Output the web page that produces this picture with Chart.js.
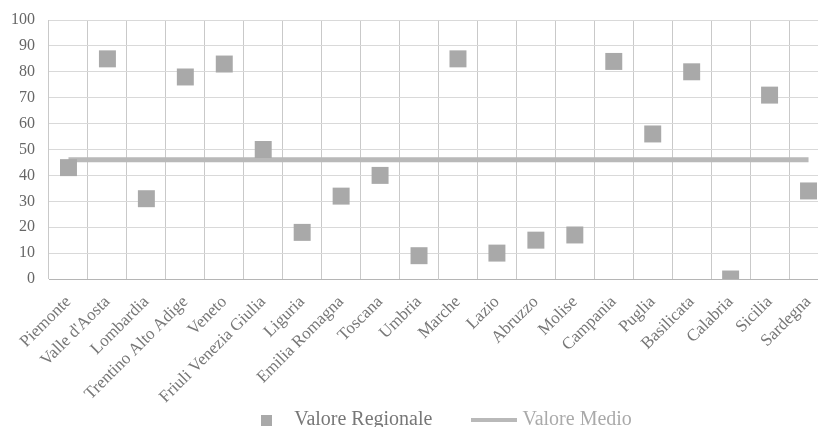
<!DOCTYPE html>
<html>
<head>
<meta charset="utf-8">
<script src="https://cdn.jsdelivr.net/npm/chart.js@4/dist/chart.umd.min.js"></script>
<style>
  html, body { margin: 0; padding: 0; background: #fff; overflow: hidden; }
  #wrap { width: 840px; height: 427px; }
</style>
</head>
<body>
<div id="wrap"><canvas id="myChart" width="840" height="427"></canvas></div>
<script>
// dati
const regioni = [
        'Piemonte', "Valle d'Aosta", 'Lombardia', 'Trentino Alto Adige', 'Veneto',
        'Friuli Venezia Giulia', 'Liguria', 'Emilia Romagna', 'Toscana', 'Umbria',
        'Marche', 'Lazio', 'Abruzzo', 'Molise', 'Campania',
        'Puglia', 'Basilicata', 'Calabria', 'Sicilia', 'Sardegna'
];
const valoreRegionale = [43, 85, 31, 78, 83, 50, 18, 32, 40, 9, 85, 10, 15, 17, 84, 56, 80, 0, 71, 34];
const valoreMedio = [46, 46, 46, 46, 46, 46, 46, 46, 46, 46, 46, 46, 46, 46, 46, 46, 46, 46, 46, 46];
const yTicks = [0, 10, 20, 30, 40, 50, 60, 70, 80, 90, 100];

const grigioPunti = '#a9a9a9';
const grigioLinea = '#b9b9b9';

// icone legenda
function makeIcon(w, h, color) {
        let c = document.createElement('canvas');
        c.width = w;
        c.height = h;
        let cx = c.getContext('2d');
        cx.fillStyle = color;
        cx.fillRect(0, 0, w, h);
        return c;
}
const iconQuadrato = makeIcon(11, 11, grigioPunti);
const iconLinea = makeIcon(46, 4, grigioLinea);

Chart.defaults.font.family = "'Liberation Serif', 'DejaVu Serif', serif";
Chart.defaults.color = '#666';

// posizione legenda
const legendPos = {
        id: 'legendPos',
        beforeInit(chart) {
                const fit = chart.legend.fit;
                chart.legend.fit = function () {
                        fit.bind(chart.legend)();
                        this.height = 21;
                };
        },
        afterLayout(chart) {
                let lg = chart.legend;
                let shift = 440 - (lg.left + lg.right) / 2;
                lg.left += shift;
                lg.right += shift;
                lg.top = 420 - 44 - 10;
                lg.bottom = chart.height;
        }
};

const data = {
        labels: regioni,
        datasets: [{
                label: 'Valore Regionale',
                data: valoreRegionale,
                showLine: false,
                pointStyle: 'rect',
                pointRadius: 12,
                pointHoverRadius: 12,
                pointBackgroundColor: grigioPunti,
                pointBorderWidth: 0,
                borderColor: grigioPunti,
                backgroundColor: grigioPunti,
                order: 0
        }, {
                label: 'Valore Medio',
                data: valoreMedio,
                borderColor: grigioLinea,
                backgroundColor: grigioLinea,
                borderWidth: 5,
                borderCapStyle: 'butt',
                pointRadius: 0,
                pointHoverRadius: 0,
                tension: 0,
                order: 1
        }]
};

const config = {
        type: 'line',
        data: data,
        plugins: [legendPos],
        options: {
                responsive: false,
                animation: false,
                layout: { padding: { top: 20, left: 0, right: 2, bottom: 0 } },
                scales: {
                        x: {
                                type: 'category',
                                offset: true,
                                grid: { offset: true, color: '#c9c9c9', drawTicks: false },
                                border: { display: false },
                                ticks: {
                                        autoSkip: false,
                                        maxRotation: 45,
                                        minRotation: 45,
                                        padding: 13,
                                        color: '#777',
                                        font: { size: 17 }
                                },
                                afterFit: axis => { axis.height = 127; }
                        },
                        y: {
                                min: 0,
                                max: 100,
                                afterBuildTicks: axis => { axis.ticks = yTicks.map(v => ({ value: v })); },
                                grid: {
                                        drawTicks: false,
                                        color: ctx => ctx.tick && ctx.tick.value === 0 ? '#b5b5b5' : '#d9d9d9'
                                },
                                border: { display: false },
                                ticks: { padding: 14, color: '#666', font: { size: 16 } },
                                afterFit: axis => {
                                        axis.width = 49;
                                        axis.paddingTop = 0;
                                        axis.paddingBottom = 0;
                                }
                        }
                },
                plugins: {
                        tooltip: { enabled: false },
                        legend: {
                                position: 'bottom',
                                labels: {
                                        usePointStyle: true,
                                        pointStyleWidth: 36,
                                        padding: 44,
                                        font: { size: 20 },
                                        generateLabels: chart => {
                                                let items = Chart.defaults.plugins.legend.labels.generateLabels(chart);
                                                items.forEach(item => {
                                                        if (item.datasetIndex === 0) {
                                                                item.pointStyle = iconQuadrato;
                                                                item.fontColor = '#777';
                                                        } else {
                                                                item.pointStyle = iconLinea;
                                                                item.fontColor = '#aaa';
                                                        }
                                                });
                                                items.sort((a, b) => a.datasetIndex - b.datasetIndex);
                                                return items;
                                        }
                                }
                        }
                }
        }
};

const myChart = new Chart(document.getElementById('myChart'), config);
</script>
</body>
</html>
